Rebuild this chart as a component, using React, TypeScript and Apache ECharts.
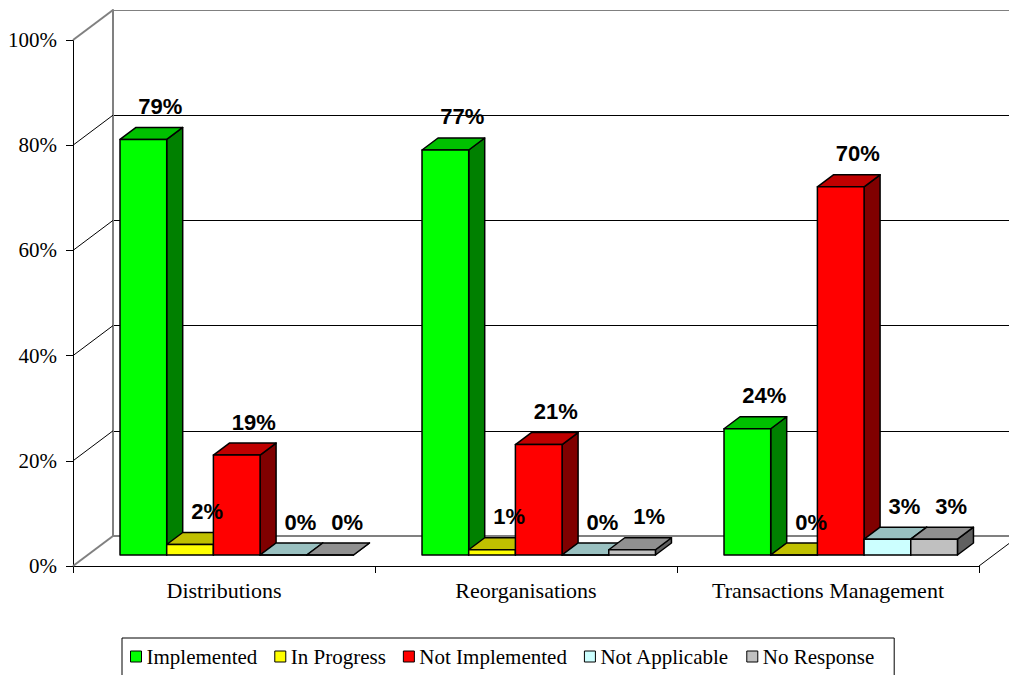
import React, { useEffect, useRef } from 'react';
import * as echarts from 'echarts';

// ---- Data ----
const CATEGORIES = ['Distributions', 'Reorganisations', 'Transactions Management'];
const SERIES_NAMES = ['Implemented', 'In Progress', 'Not Implemented', 'Not Applicable', 'No Response'];
const IMPLEMENTED = [79, 77, 24];
const IN_PROGRESS = [2, 1, 0];
const NOT_IMPLEMENTED = [19, 21, 70];
const NOT_APPLICABLE = [0, 0, 3];
const NO_RESPONSE = [0, 1, 3];
const SERIES_VALUES = [IMPLEMENTED, IN_PROGRESS, NOT_IMPLEMENTED, NOT_APPLICABLE, NO_RESPONSE];
const Y_TICKS = [0, 20, 40, 60, 80, 100];

// ---- Styles ----
const FRONT = ['#00FF00', '#FFFF00', '#FF0000', '#CCFFFF', '#C0C0C0'];
const TOP = ['#00C000', '#C0C000', '#C00000', '#99C0C0', '#909090'];
const SIDE = ['#008000', '#808000', '#800000', '#669999', '#606060'];

const WALL_DX = 40;
const WALL_DY = -30;
const BAR_FRONT_DX = 14.7;
const BAR_FRONT_DY = -11;
const BAR_DEPTH_DX = 16;
const BAR_DEPTH_DY = -12;
const BAR_START_FRAC = 0.107;
const BAR_W_FRAC = 0.1546;
const LABEL_DX = 17;
const LABEL_GAP = 21;

const SERIF = '"Liberation Serif", "Times New Roman", serif';
const SANS = '"Liberation Sans", Arial, sans-serif';

function makeBarRender(k: number) {
  return (params: any, api: any) => {
    const cat = api.value(0);
    const v = api.value(1);
    const base = api.coord([cat, 0]);
    const top = api.coord([cat, v]);
    const band = api.size([1, 0])[0];
    const w = band * BAR_W_FRAC;
    const x0 = base[0] - band / 2 + BAR_FRONT_DX + band * BAR_START_FRAC + k * w;
    const yb = base[1] + BAR_FRONT_DY;
    const yt = top[1] + BAR_FRONT_DY;
    const dx = BAR_DEPTH_DX;
    const dy = BAR_DEPTH_DY;
    const stroke = { stroke: '#000', lineWidth: 1.5, lineJoin: 'round' };
    return {
      type: 'group',
      children: [
        {
          type: 'polygon',
          shape: { points: [[x0 + w, yt], [x0 + w + dx, yt + dy], [x0 + w + dx, yb + dy], [x0 + w, yb]] },
          style: { fill: SIDE[k], ...stroke },
        },
        {
          type: 'polygon',
          shape: { points: [[x0, yt], [x0 + dx, yt + dy], [x0 + w + dx, yt + dy], [x0 + w, yt]] },
          style: { fill: TOP[k], ...stroke },
        },
        {
          type: 'rect',
          shape: { x: x0, y: yt, width: w, height: yb - yt },
          style: { fill: FRONT[k], ...stroke },
        },
        {
          type: 'text',
          z2: 100,
          style: {
            text: v + '%',
            x: x0 + w / 2 + LABEL_DX,
            y: yt + dy - LABEL_GAP,
            fill: '#000',
            font: 'bold 22px ' + SANS,
            align: 'center',
            verticalAlign: 'middle',
          },
        },
      ],
    };
  };
}

function renderWallDiagonals(params: any, api: any) {
  const cs = params.coordSys;
  const v = api.value(1);
  const y = api.coord([0, v])[1];
  const isEdge = v === Y_TICKS[0] || v === Y_TICKS[Y_TICKS.length - 1];
  const color = isEdge ? '#808080' : '#000';
  const children: any[] = [
    {
      type: 'line',
      shape: { x1: cs.x, y1: y, x2: cs.x + WALL_DX, y2: y + WALL_DY },
      style: { stroke: color, lineWidth: isEdge ? 2 : 1 },
    },
  ];
  if (v === Y_TICKS[0]) {
    children.push({
      type: 'line',
      shape: { x1: cs.x + cs.width, y1: y, x2: cs.x + cs.width + WALL_DX, y2: y + WALL_DY },
      style: { stroke: '#000', lineWidth: 1 },
    });
  }
  return { type: 'group', children };
}

function buildOption(): any {
  const barSeries = SERIES_NAMES.map((name, k) => ({
    name,
    type: 'custom',
    xAxisIndex: 0,
    yAxisIndex: 0,
    z: 2,
    clip: false,
    itemStyle: { color: FRONT[k], borderColor: '#000', borderWidth: 1 },
    renderItem: makeBarRender(k),
    data: SERIES_VALUES[k].map((v, i) => [i, v]),
  }));

  return {
    animation: false,
    backgroundColor: '#fff',
    grid: [
      { left: 73, top: 40, width: 906, height: 526 },
      { left: 113, top: 10, width: 906, height: 526 },
    ],
    xAxis: [
      {
        type: 'category',
        gridIndex: 0,
        data: CATEGORIES,
        boundaryGap: true,
        axisLine: { show: true, lineStyle: { color: '#000', width: 1 } },
        axisTick: { show: true, length: 7, lineStyle: { color: '#000' } },
        axisLabel: { interval: 0, margin: 13, color: '#000', fontFamily: SERIF, fontSize: 22 },
        splitLine: { show: false },
      },
      {
        type: 'value',
        gridIndex: 1,
        position: 'top',
        min: 0,
        max: 1,
        axisLine: { show: true, lineStyle: { color: '#808080', width: 2 } },
        axisTick: { show: false },
        axisLabel: { show: false },
        splitLine: { show: false },
      },
    ],
    yAxis: [
      {
        type: 'value',
        gridIndex: 0,
        min: 0,
        max: 100,
        interval: 20,
        axisLine: { show: true, lineStyle: { color: '#000', width: 1 } },
        axisTick: { show: true, length: 7, lineStyle: { color: '#000' } },
        axisLabel: { formatter: '{value}%', margin: 16, color: '#000', fontFamily: SERIF, fontSize: 21 },
        splitLine: { show: false },
      },
      {
        type: 'value',
        gridIndex: 1,
        min: 0,
        max: 100,
        interval: 20,
        axisLine: { show: true, lineStyle: { color: '#808080', width: 2 } },
        axisTick: { show: false },
        axisLabel: { show: false },
        splitLine: {
          show: true,
          lineStyle: { color: ['#808080', '#000', '#000', '#000', '#000', '#808080'], width: 1 },
        },
      },
    ],
    legend: {
      data: SERIES_NAMES,
      left: 122,
      top: 638,
      orient: 'horizontal',
      icon: 'rect',
      itemWidth: 11,
      itemHeight: 11,
      itemGap: 17,
      padding: [8, 20, 20, 8],
      borderColor: '#000',
      borderWidth: 1,
      itemStyle: { borderColor: '#000', borderWidth: 1 },
      textStyle: { color: '#000', fontFamily: SERIF, fontSize: 21 },
    },
    series: [
      {
        name: 'walls',
        type: 'custom',
        xAxisIndex: 0,
        yAxisIndex: 0,
        z: 1,
        clip: false,
        silent: true,
        renderItem: renderWallDiagonals,
        data: Y_TICKS.map((v) => [0, v]),
      },
      ...barSeries,
    ],
  };
}

export default function App() {
  const ref = useRef<HTMLDivElement>(null);
  useEffect(() => {
    if (!ref.current) return;
    const chart = echarts.init(ref.current, null, { renderer: 'svg' });
    chart.setOption(buildOption());
    return () => {
      chart.dispose();
    };
  }, []);
  return (
    <div
      ref={ref}
      style={{ position: 'fixed', left: 0, top: 0, width: 1009, height: 675, background: '#fff' }}
    />
  );
}
